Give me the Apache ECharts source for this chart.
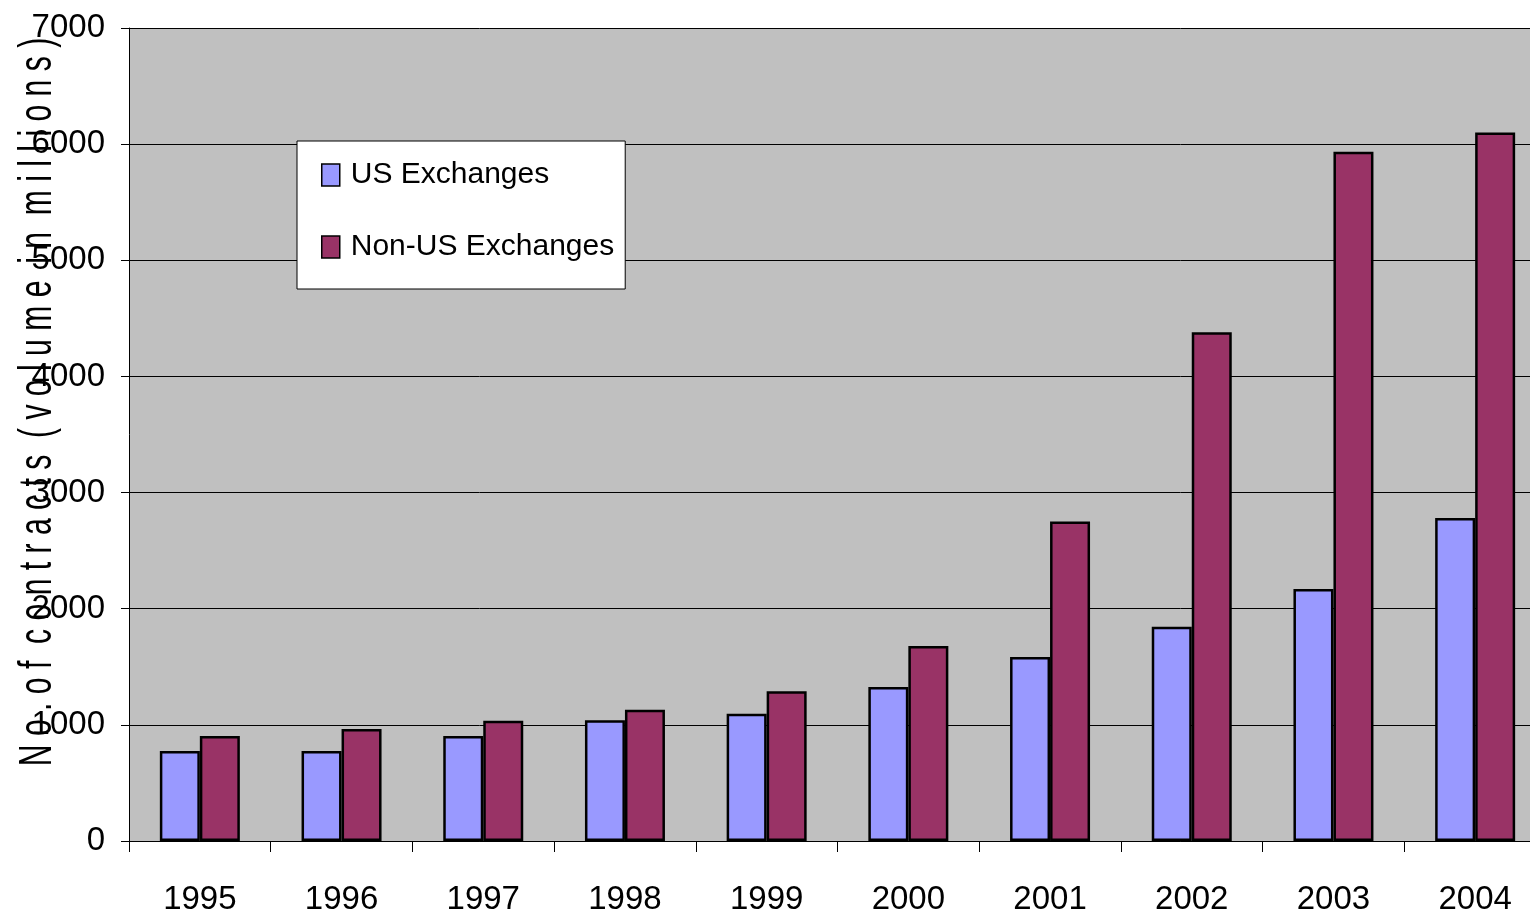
<!DOCTYPE html>
<html>
<head>
<meta charset="utf-8">
<script src="https://cdn.jsdelivr.net/npm/echarts@6/dist/echarts.min.js"></script>
<style>
  html, body { margin: 0; padding: 0; background: #fff; }
  #chart { width: 1530px; height: 919px; }
</style>
</head>
<body>
<div id="chart"></div>
<script>
// data (volume in millions)
var years = ["1995", "1996", "1997", "1998", "1999", "2000", "2001", "2002", "2003", "2004"];
var usExchanges = [775, 775, 905, 1040, 1095, 1325, 1585, 1845, 2170, 2780];
var nonUsExchanges = [905, 965, 1035, 1130, 1290, 1680, 2750, 4380, 5935, 6100];
var yTicks = [0, 1000, 2000, 3000, 4000, 5000, 6000, 7000];

var sans = "'Liberation Sans', Arial, sans-serif";

var myChart = echarts.init(document.getElementById("chart"));

var option = {
  animation: false,
  backgroundColor: "#fff",
  grid: {
    left: 129,
    top: 28,
    right: -16,
    bottom: 78,
    outerBoundsMode: "none",
    containLabel: false,
    show: true,
    backgroundColor: "#C0C0C0",
    borderWidth: 0
  },
  legend: {
    orient: "vertical",
    left: 297,
    top: 141,
    backgroundColor: "#fff",
    borderColor: "#000",
    borderWidth: 1,
    padding: [19, 11, 27, 24],
    itemWidth: 18,
    itemHeight: 22,
    itemGap: 42,
    icon: "rect",
    itemStyle: { borderColor: "#000", borderWidth: 1.5 },
    textStyle: { fontSize: 30, fontFamily: sans, color: "#000", padding: [0, 0, 0, 6] },
    data: ["US Exchanges", "Non-US Exchanges"]
  },
  xAxis: {
    type: "category",
    data: years,
    axisLine: { show: true, lineStyle: { color: "#000", width: 1 } },
    axisTick: { show: true, length: 11, alignWithLabel: false, lineStyle: { color: "#000" } },
    axisLabel: { margin: 42, fontSize: 33, fontFamily: sans, color: "#000" },
    splitLine: { show: false }
  },
  yAxis: {
    type: "value",
    min: yTicks[0],
    max: yTicks[yTicks.length - 1],
    interval: 1000,
    axisLine: { show: true, lineStyle: { color: "#000", width: 1 } },
    axisTick: { show: true, length: 8, lineStyle: { color: "#000" } },
    axisLabel: {
      margin: 24,
      fontSize: 33,
      fontFamily: sans,
      color: "#000",
      formatter: function (v) { return String(v); }
    },
    splitLine: { show: true, lineStyle: { color: "#000", width: 1 } }
  },
  graphic: [
    {
      type: "text",
      x: 38,
      y: 402,
      rotation: Math.PI / 2,
      scaleX: 0.655,
      style: {
        text: "N o . o f  c o n t r a c t s  ( v o l u m e  i n  m i l l i o n s )",
        fontSize: 46,
        fontFamily: sans,
        fill: "#000",
        align: "center",
        verticalAlign: "middle"
      }
    }
  ],
  series: [
    {
      name: "US Exchanges",
      type: "bar",
      data: usExchanges,
      barWidth: 40,
      barGap: "0%",
      itemStyle: { color: "#9999FF", borderColor: "#000", borderWidth: 2.5 }
    },
    {
      name: "Non-US Exchanges",
      type: "bar",
      data: nonUsExchanges,
      barWidth: 40,
      barGap: "0%",
      itemStyle: { color: "#993366", borderColor: "#000", borderWidth: 2.5 }
    }
  ]
};

myChart.setOption(option, true);
window.addEventListener("resize", function () {
  myChart.resize();
});
</script>
</body>
</html>
